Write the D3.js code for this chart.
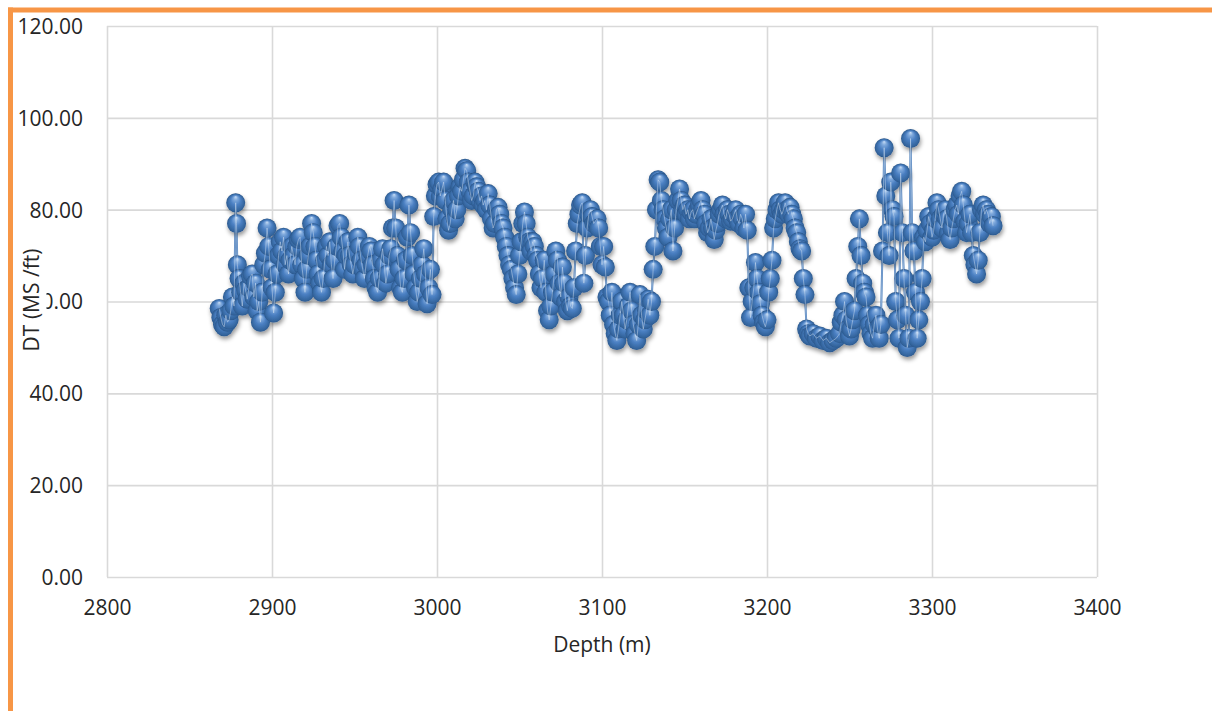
<!DOCTYPE html>
<html>
<head>
<meta charset="utf-8">
<script src="https://cdn.jsdelivr.net/npm/d3@7"></script>
<style>
  html, body { margin: 0; padding: 0; background: #fff; }
  svg { display: block; font-family: "Open Sans", "Liberation Sans", sans-serif; }
</style>
</head>
<body>
<svg id="chart" width="1212" height="711"></svg>
<script>
// Sonic log samples: [depth (m), DT (µs/ft)]
const samples = [
  [2868,58.5],[2869,56.5],[2870,55],[2871,54.5],[2872,57],[2873,55.5],[2874,56],[2875,58],[2876,61],[2877,59],
  [2878,81.5],[2878.5,77],[2879,68],[2880,65],[2881,62],[2882,59],[2883,64],[2884,62.5],[2885,60.5],[2886,63],
  [2887,65.5],[2888,66],[2889,61],[2890,64],[2891,58],[2892,60],[2893,55.5],[2894,62],[2895,68],[2896,70.5],
  [2897,76],[2898,72],[2899,67],[2900,63],[2901,57.5],[2902,62],[2903,66],[2904,70],[2905,73],[2906,71],
  [2907,74],[2908,68],[2909,70],[2910,66],[2911,69],[2912,72],[2913,70],[2914,68],[2915,72],[2916,73.5],
  [2917,74],[2918,68],[2919,65],[2920,62],[2921,67],[2922,70],[2923,72],[2924,77],[2925,75],[2926,72],
  [2927,69],[2928,66],[2929,64],[2930,62],[2931,65],[2932,69],[2933,72],[2934,70],[2935,73],[2936,68],
  [2937,65],[2938,69],[2939,72],[2940,76.5],[2941,77],[2942,74],[2943,71],[2944,67],[2945,70],[2946,73],
  [2947,70],[2948,68],[2949,66],[2950,68],[2951,70.5],[2952,74],[2953,72],[2954,69],[2955,67],[2956,65],
  [2957,68],[2958,70],[2959,72],[2960,71],[2961,68],[2962,65],[2963,63],[2964,62],[2965,65],[2966,69],
  [2967,71.5],[2968,68],[2969,64],[2970,66],[2971,70],[2972,71.5],[2973,76],[2974,82],[2975,76],[2976,70],
  [2977,67],[2978,63],[2979,62],[2980,65],[2981,69],[2982,74],[2983,81],[2984,75],[2985,70],[2986,66],
  [2987,63],[2988,60],[2989,62],[2990,65],[2991,68],[2992,71.5],[2993,66],[2994,59.5],[2995,63],[2996,67],
  [2997,61.5],[2998,78.5],[2999,83],[3000,85.5],[3001,86],[3002,83],[3003,84.5],[3004,86],[3005,82],[3006,78],
  [3007,75.5],[3008,77],[3009,80],[3010,82],[3011,78],[3012,80],[3013,83],[3014,85],[3015,84],[3016,86.5],
  [3017,89],[3018,88.5],[3019,86],[3020,84],[3021,82],[3022,83],[3023,86],[3024,85],[3025,84],[3026,82],
  [3027,83],[3028,81],[3029,82],[3030,80],[3031,83.5],[3032,81],[3033,78],[3034,76],[3035,77],[3036,80],
  [3037,80.5],[3038,79],[3039,77],[3040,76],[3041,74],[3042,72],[3043,70],[3044,68],[3045,67],[3046,65],
  [3047,63],[3048,61.5],[3049,66],[3050,70],[3051,73],[3052,77],[3053,79.5],[3054,77],[3055,74],[3056,73],
  [3057,71],[3058,73],[3059,72],[3060,70],[3061,69],[3062,66],[3063,63],[3064,65],[3065,69],[3066,62],
  [3067,58],[3068,56],[3069,59],[3070,62],[3071,66],[3072,71],[3073,69],[3074,64],[3075,61],[3076,67.5],
  [3077,64],[3078,60],[3079,58],[3080,61],[3081,59],[3082,58.5],[3083,63],[3084,71],[3085,77],[3086,79],
  [3087,81],[3088,81.5],[3089,64],[3090,70],[3091,76],[3092,79],[3093,80],[3094,78.5],[3095,77],[3096,77.5],
  [3097,78],[3098,76],[3099,72],[3100,68],[3101,72],[3102,67.5],[3103,61],[3104,60],[3105,57],[3106,62],
  [3107,55],[3108,53],[3109,51.5],[3110,54],[3111,57],[3112,60],[3113,57],[3114,54],[3115,56],[3116,59],
  [3117,62],[3118,58],[3119,55],[3120,53],[3121,51.5],[3122,55],[3123,61.5],[3124,57],[3125,54],[3126,56],
  [3127,58],[3128,60.5],[3129,57],[3130,60],[3131,67],[3132,72],[3133,80],[3134,86.5],[3135,86],[3136,82],
  [3137,80],[3138,78],[3139,76],[3140,74],[3141,78],[3142,80],[3143,71],[3144,76],[3145,80],[3146,82],
  [3147,84.5],[3148,82],[3149,80],[3150,81],[3151,79],[3152,80],[3153,78],[3154,79.5],[3155,80],[3156,78],
  [3157,79],[3158,80],[3159,81],[3160,82],[3161,80],[3162,79],[3163,77],[3164,75],[3165,76],[3166,78],
  [3167,76],[3168,73.5],[3169,75.5],[3170,77],[3171,79],[3172,80],[3173,81],[3174,79],[3175,78],[3176,80],
  [3177,79],[3178,77.5],[3179,78],[3180,79],[3181,80],[3182,78],[3183,77],[3184,79],[3185,78],[3186,76],
  [3187,79],[3188,75.5],[3189,63],[3190,56.5],[3191,60],[3192,63],[3193,68.5],[3194,65],[3195,62],[3196,59.5],
  [3197,57],[3198,55.5],[3199,54.5],[3200,56],[3201,62],[3202,65],[3203,69],[3204,76],[3205,78],[3206,80],
  [3207,81.5],[3208,80],[3209,79],[3210,80],[3211,81.5],[3212,80],[3213,79],[3214,80.5],[3215,79],[3216,78],
  [3217,76],[3218,75],[3219,73],[3220,71.5],[3221,71],[3222,65],[3223,61.5],[3224,54],[3225,53],[3226,52.5],
  [3228,53],[3230,52],[3232,52.5],[3234,51.5],[3236,52],[3238,51],[3240,51.5],[3242,52],[3244,53],[3245,55.5],
  [3246,57],[3247,60],[3248,56],[3249,54],[3250,52.5],[3251,54],[3252,56],[3253,58],[3254,65],[3255,72],
  [3256,78],[3257,70],[3258,64],[3259,62],[3260,61],[3261,57],[3262,55],[3263,53],[3264,52],[3265,55],
  [3266,57],[3267,54],[3268,52],[3269,55],[3270,71],[3271,93.5],[3272,83],[3273,75],[3274,70],[3275,86],
  [3276,80],[3277,78.5],[3278,60],[3279,56],[3280,52],[3281,88],[3282,75],[3283,65],[3284,57],[3285,50],
  [3286,52],[3287,95.5],[3288,75],[3289,71],[3290,62],[3291,52],[3292,56],[3293,60],[3294,65],[3295,74],
  [3296,73],[3297,75.5],[3298,78.5],[3299,77],[3300,74],[3301,75.5],[3302,78],[3303,81.5],[3304,80],[3305,78],
  [3306,76],[3307,79],[3308,80],[3309,78],[3310,75],[3311,73.5],[3312,76],[3313,78],[3314,80],[3315,81],
  [3316,79],[3317,83],[3318,84],[3319,81],[3320,77.5],[3321,75],[3322,77],[3323,79],[3324,75],[3325,70],
  [3326,68],[3327,66],[3328,69],[3329,75],[3330,80],[3331,81],[3332,79],[3333,80],[3334,79],[3335,77],
  [3336,78.5],[3337,76.5]
];

const xTicks = [2800, 2900, 3000, 3100, 3200, 3300, 3400];
const yTicks = [0, 20, 40, 60, 80, 100, 120];
const xTitle = "Depth (m)";
const yTitle = "DT (MS /ft)";

const plot = { left: 107, right: 1097, top: 26, bottom: 577 };
const x = d3.scaleLinear().domain([2800, 3400]).range([plot.left, plot.right]);
const y = d3.scaleLinear().domain([0, 120]).range([plot.bottom, plot.top]);

const svg = d3.select("#chart");
const defs = svg.append("defs");

// shaded ball marker
const grad = defs.append("radialGradient").attr("id", "ball")
  .attr("cx", "0.5").attr("cy", "0.55").attr("r", "0.55")
  .attr("fx", "0.5").attr("fy", "0.18");
[["0", "#c9def6"], ["0.2", "#7fa9dc"], ["0.48", "#4a7fc2"], ["0.82", "#33649c"], ["1", "#1f4679"]]
  .forEach(([o, c]) => grad.append("stop").attr("offset", o).attr("stop-color", c));

const shadow = defs.append("filter").attr("id", "shadow")
  .attr("x", "-10%").attr("y", "-10%").attr("width", "120%").attr("height", "130%");
shadow.append("feDropShadow").attr("dx", 1).attr("dy", 3).attr("stdDeviation", 2)
  .attr("flood-color", "#000").attr("flood-opacity", 0.4);

// gridlines and tick labels
const gridColor = "#d9d9d9";
const textColor = "#262626";

const yAxis = svg.append("g").attr("transform", `translate(${plot.left},0)`)
  .call(d3.axisLeft(y).tickValues(yTicks).tickSize(-(plot.right - plot.left))
    .tickPadding(24).tickFormat(d => d.toFixed(2)));
const xAxis = svg.append("g").attr("transform", `translate(0,${plot.bottom})`)
  .call(d3.axisBottom(x).tickValues(xTicks).tickSize(-(plot.bottom - plot.top))
    .tickPadding(23).tickFormat(d3.format("d")));

[yAxis, xAxis].forEach(g => {
  g.select(".domain").remove();
  g.selectAll(".tick line").attr("stroke", gridColor).attr("stroke-width", 1.6);
  g.selectAll(".tick text").attr("fill", textColor)
    .style("font-size", "21px").style("font-family", '"Open Sans", sans-serif');
});
yAxis.selectAll(".tick text").attr("dy", "0.35em");

// series: connecting line, balls, highlight strokes
const line = d3.line().x(d => x(d[0])).y(d => y(d[1]));
svg.append("path").datum(samples).attr("d", line)
  .attr("fill", "none").attr("stroke", "#4f81bd").attr("stroke-width", 2);

svg.append("g").attr("filter", "url(#shadow)")
  .selectAll("circle").data(samples).join("circle")
  .attr("cx", d => x(d[0])).attr("cy", d => y(d[1])).attr("r", 9.5)
  .attr("fill", "url(#ball)");

svg.append("path").datum(samples).attr("d", line)
  .attr("fill", "none").attr("stroke", "#d6e4f5").attr("stroke-opacity", 0.45).attr("stroke-width", 1);

// axis titles
svg.append("text").attr("x", (plot.left + plot.right) / 2).attr("y", 652)
  .attr("text-anchor", "middle").attr("fill", textColor).style("font-size", "21px")
  .text(xTitle);

svg.append("rect").attr("x", 16).attr("y", 238).attr("width", 30.5).attr("height", 124).attr("fill", "#fff");
svg.append("text").attr("transform", "translate(38.5,300) rotate(-90)")
  .attr("text-anchor", "middle").attr("fill", textColor).style("font-size", "21px")
  .text(yTitle);

// orange frame
const frame = "#f79646";
svg.append("line").attr("x1", 8).attr("x2", 1212).attr("y1", 10).attr("y2", 10)
  .attr("stroke", frame).attr("stroke-width", 5);
svg.append("line").attr("x1", 10.5).attr("x2", 10.5).attr("y1", 7.5).attr("y2", 711)
  .attr("stroke", frame).attr("stroke-width", 5);
</script>
</body>
</html>
